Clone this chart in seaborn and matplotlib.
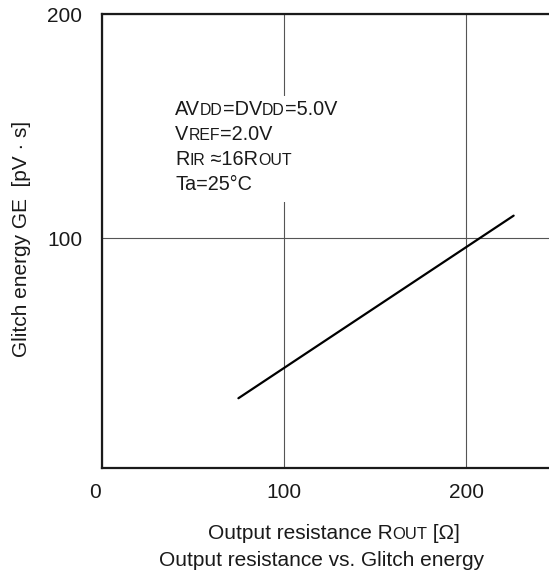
import matplotlib
matplotlib.use("Agg")
import matplotlib.pyplot as plt
import matplotlib.transforms as mtransforms
from matplotlib.patches import Rectangle
import seaborn as sns
import pandas as pd

# curve
rout = [75, 226]
glitch = [28.5, 110]
x_ticks = [0, 100, 200]
y_ticks = [100, 200]

ink = "#1a1a1a"
W, H = 549, 571

sns.set_style("white")
plt.rcParams["font.family"] = ["Liberation Sans", "DejaVu Sans"]

fig = plt.figure(figsize=(W / 100, H / 100), dpi=100)
ax = fig.add_axes([101.7 / W, (H - 467.7) / H, 1 - 101.7 / W + 0.002, (467.7 - 14) / H])

df = pd.DataFrame({"rout": rout, "ge": glitch})
sns.lineplot(data=df, x="rout", y="ge", color="black", linewidth=1.6, ax=ax, zorder=4)

ax.set_xlim(0, 246)
ax.set_ylim(-2.5, 200)
ax.set_xticks(x_ticks)
ax.set_yticks(y_ticks)
ax.set_xticklabels([str(v) for v in x_ticks])
ax.set_yticklabels([str(v) for v in y_ticks])
ax.tick_params(axis="both", length=0, labelsize=15, colors=ink)
ax.tick_params(axis="x", pad=11)
ax.tick_params(axis="y", pad=14)
# nudge the corner "0" to the left like the original
lbl0 = ax.get_xticklabels()[0]
lbl0.set_transform(lbl0.get_transform() + mtransforms.ScaledTranslation(-7 / 100, 0, fig.dpi_scale_trans))

ax.grid(True, color="#555555", linewidth=0.8)
ax.set_axisbelow(True)
for side in ["left", "bottom", "top"]:
    ax.spines[side].set_linewidth(1.6)
    ax.spines[side].set_color(ink)
ax.spines["right"].set_visible(False)
ax.set_xlabel("")
ax.set_ylabel("")

# white patch behind the condition notes (breaks the 100 grid line)
ax.add_patch(Rectangle(((170 - 101.7) / (W - 101.7), (467.7 - 202) / 453.7),
                       185 / (W - 101.7), 106 / 453.7, transform=ax.transAxes,
                       facecolor="white", edgecolor="none", zorder=2))

ident = mtransforms.IdentityTransform()


def rich_text(x, y_img, parts, size, ha="left"):
    # parts: (string, small-caps?) pieces laid out along one baseline
    r = fig.canvas.get_renderer()
    arts = []
    for s, small in parts:
        t = fig.text(0, 0, s, fontsize=size * 0.8 if small else size, color=ink,
                     va="baseline", ha="left", transform=ident, zorder=5)
        arts.append(t)
    widths = [a.get_window_extent(r).width for a in arts]
    cx = x - sum(widths) / 2 if ha == "center" else x
    for a, w in zip(arts, widths):
        a.set_position((cx, H - y_img))
        cx += w


notes = [
    [("AV", False), ("DD", True), ("=DV", False), ("DD", True), ("=5.0V", False)],
    [("V", False), ("REF", True), ("=2.0V", False)],
    [("R", False), ("IR", True), (" \u224816R", False), ("OUT", True)],
    [("Ta=25°C", False)],
]
for i, line in enumerate(notes):
    rich_text(175, 115 + i * 25, line, 14.3)

fig.text(22 / W, 1 - 239 / H, "Glitch energy GE  [pV · s]", rotation=90, fontsize=15,
         color=ink, ha="center", va="center")
rich_text(334, 539, [("Output resistance R", False), ("OUT", True), (" [Ω]", False)], 15, ha="center")
rich_text(322, 566, [("Output resistance vs. Glitch energy", False)], 15, ha="center")

fig.savefig("out.png", dpi=100)
